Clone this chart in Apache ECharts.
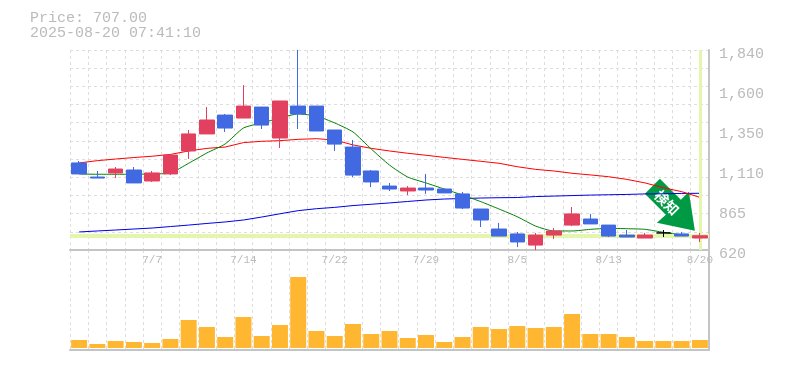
<!DOCTYPE html>
<html>
<head>
<meta charset="utf-8">
<style>
  html, body { margin: 0; padding: 0; background: #fff; }
  #main { width: 785px; height: 370px; }
</style>
<script src="https://cdn.jsdelivr.net/npm/echarts@6/dist/echarts.min.js"></script>
</head>
<body>
<div id="main"></div>
<script>
var dates = ['7/1','7/2','7/3','7/4','7/7','7/8','7/9','7/10','7/11','7/14','7/15','7/16','7/17','7/18','7/22','7/23','7/24','7/25','7/28','7/29','7/30','7/31','8/1','8/4','8/5','8/6','8/7','8/8','8/12','8/13','8/14','8/15','8/18','8/19','8/20'];
var opens =  [1151,1065,1090,1108,1041,1084,1224,1328,1443,1425,1492,1303,1498,1498,1352,1248,1102,1010,980,998,992,962,870,748,718,650,711,772,809,772,711,693,724,718,693];
var closes = [1084,1059,1114,1029,1090,1199,1328,1413,1364,1498,1382,1529,1450,1346,1266,1077,1035,992,998,986,968,876,803,705,669,711,736,840,779,705,699,711,724,705,707];
var lows =   [1084,1059,1059,1029,1035,1077,1175,1328,1340,1425,1358,1242,1358,1346,1224,1065,1004,980,955,962,968,870,760,705,638,620,687,766,779,699,699,693,699,705,669];
var highs =  [1163,1102,1126,1126,1102,1199,1352,1492,1450,1626,1492,1529,1840,1498,1352,1291,1108,1029,1010,1084,992,974,870,785,730,724,754,882,840,772,742,724,742,730,724];
var maShort = [1084,1082,1082,1082,1084,1090,1149,1212,1267,1364,1395,1425,1450,1437,1395,1340,1236,1138,1065,1029,992,955,915,870,823,766,736,736,746,752,750,746,728,713,708];
var maMid =   [1151,1165,1175,1184,1192,1203,1224,1240,1248,1275,1283,1287,1295,1299,1291,1261,1240,1224,1210,1198,1185,1173,1161,1149,1128,1112,1102,1088,1078,1067,1051,1029,1000,976,941];
var maLong =  [730,736,742,748,754,763,772,782,791,803,821,841,860,872,880,891,899,907,916,925,931,934,937,939,940,946,949,952,955,957,959,962,963,965,966];
var volumes = [8,4,7,6,5,9,28,21,11,31,12,23,71,17,12,24,14,17,10,13,6,11,21,19,22,20,21,34,14,14,11,7,7,7,8];
var priceTicks = [620,865,1110,1350,1600,1840];
var lastPrice = 707.00;
var stamp = '2025-08-20 07:41:10';

var UP = '#e2405f', DOWN = '#4169e1', GRID = '#dddddd', EDGE = '#c4c4c4', TEXT = '#bbbbbb';
var MONO = '"Liberation Mono", monospace';

var candles = dates.map(function (d, i) {
  var item = { value: [opens[i], closes[i], lows[i], highs[i]] };
  // 寄引同値は黒
  if (opens[i] === closes[i]) {
    item.itemStyle = { color: '#000', color0: '#000', borderColor: '#000', borderColor0: '#000' };
  }
  return item;
});

var chart = echarts.init(document.getElementById('main'));

function dash() {
  return { show: true, interval: 0, lineStyle: { color: GRID, type: [3, 3], width: 1 } };
}

chart.setOption({
  animation: false,
  backgroundColor: '#fff',
  title: {
    text: 'Price: ' + lastPrice.toFixed(2) + '\n' + stamp,
    left: 30,
    top: 11,
    padding: 0,
    textStyle: { fontFamily: MONO, fontSize: 15, fontWeight: 'normal', color: TEXT, lineHeight: 15 }
  },
  grid: [
    { left: 70, top: 50, width: 639, height: 200 },
    { left: 70, top: 250, width: 639, height: 100 }
  ],
  xAxis: [{
    type: 'category',
    gridIndex: 0,
    data: dates,
    axisLine: { lineStyle: { color: EDGE, width: 2 } },
    axisTick: { show: false, interval: 0 },
    splitLine: dash(),
    axisLabel: {
      color: TEXT,
      fontFamily: MONO,
      fontSize: 11,
      margin: 5,
      interval: function (i) { return i % 5 === 4; }
    }
  }, {
    type: 'category',
    gridIndex: 1,
    data: dates,
    axisLine: { onZero: false, lineStyle: { color: EDGE, width: 2 } },
    axisTick: { show: false, interval: 0 },
    axisLabel: { show: false },
    splitLine: dash()
  }],
  yAxis: [{
    type: 'value',
    gridIndex: 0,
    position: 'right',
    min: 620,
    max: 1840,
    interval: 244,
    axisLine: { show: true, lineStyle: { color: EDGE, width: 2 } },
    axisTick: { show: false },
    splitLine: { show: false },
    axisLabel: {
      color: TEXT,
      fontFamily: MONO,
      fontSize: 15,
      margin: 10,
      verticalAlign: 'top',
      padding: [-3, 0, 0, 0],
      formatter: function (v, i) { return priceTicks[i].toLocaleString('en-US'); }
    }
  }, {
    // 横グリッドは11分割
    type: 'value',
    gridIndex: 0,
    position: 'left',
    min: 620,
    max: 1840,
    interval: 1220 / 11,
    axisLine: { show: false },
    axisTick: { show: false },
    axisLabel: { show: false },
    splitLine: dash()
  }, {
    type: 'value',
    gridIndex: 1,
    position: 'right',
    min: -2,
    max: 98,
    axisLine: { show: true, lineStyle: { color: EDGE, width: 2 } },
    axisTick: { show: false },
    axisLabel: { show: false },
    splitLine: { show: false }
  }],
  series: [{
    name: 'price level',
    type: 'line',
    xAxisIndex: 0,
    yAxisIndex: 0,
    data: [],
    z: 2,
    markLine: {
      silent: true,
      symbol: 'none',
      animation: false,
      label: { show: false },
      lineStyle: { color: '#e4f5ac', width: 4, type: 'solid' },
      data: [{ yAxis: lastPrice }, { xAxis: '8/20', lineStyle: { color: '#e4f5ac', width: 3, type: 'solid' } }]
    }
  }, {
    name: 'long',
    type: 'line',
    xAxisIndex: 0,
    yAxisIndex: 0,
    data: maLong,
    symbol: 'none',
    z: 3,
    lineStyle: { color: '#0000e6', width: 1 }
  }, {
    name: 'mid',
    type: 'line',
    xAxisIndex: 0,
    yAxisIndex: 0,
    data: maMid,
    symbol: 'none',
    z: 3,
    lineStyle: { color: '#ff0000', width: 1 }
  }, {
    name: 'short',
    type: 'line',
    xAxisIndex: 0,
    yAxisIndex: 0,
    data: maShort,
    symbol: 'none',
    smooth: 0.2,
    z: 3,
    lineStyle: { color: '#008000', width: 1 }
  }, {
    name: 'price',
    type: 'candlestick',
    xAxisIndex: 0,
    yAxisIndex: 0,
    data: candles,
    barWidth: 15,
    z: 5,
    itemStyle: {
      color: UP,
      color0: DOWN,
      borderColor: UP,
      borderColor0: DOWN,
      borderWidth: 1
    }
  }, {
    name: 'volume',
    type: 'bar',
    xAxisIndex: 1,
    yAxisIndex: 2,
    data: volumes,
    barWidth: 16,
    itemStyle: { color: '#ffb732' }
  }]
});

// シグナルの矢印 (最新足に合わせる)
var tip = chart.convertToPixel({ xAxisIndex: 0, yAxisIndex: 0 }, ['8/20', lastPrice]);
chart.setOption({
  graphic: [{
    type: 'group',
    x: tip[0] - 5,
    y: tip[1] - 5,
    z: 20,
    children: [{
      type: 'polygon',
      shape: { points: [[0, 0], [-38, -8], [-29, -16], [-50, -37], [-35, -52], [-14, -31], [-6, -39]] },
      style: { fill: '#009944' }
    }, {
      type: 'text',
      x: -28,
      y: -28,
      rotation: -Math.PI / 4,
      style: {
        text: '検知',
        fill: '#fff',
        font: 'bold 14px "Noto Sans CJK JP"',
        align: 'center',
        verticalAlign: 'middle'
      }
    }]
  }]
});
</script>
</body>
</html>
